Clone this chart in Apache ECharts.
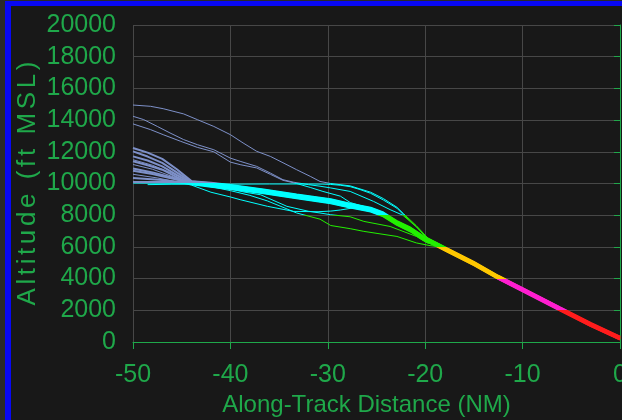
<!DOCTYPE html>
<html>
<head>
<meta charset="utf-8">
<script src="https://cdn.jsdelivr.net/npm/echarts@6/dist/echarts.min.js"></script>
<style>
  html, body { margin: 0; padding: 0; background: #2a2a2a; overflow: hidden; }
  #chart { position: absolute; left: 0; top: 0; width: 622px; height: 420px; }
  .edge { position: absolute; }
</style>
</head>
<body>
<div id="chart"></div>
<div class="edge" style="left:0;top:0;width:5px;height:420px;background:#2a2a2a"></div>
<div class="edge" style="left:0;top:0;width:622px;height:1px;background:#2a2a2a"></div>
<div class="edge" style="left:5px;top:1px;width:617px;height:5px;background:#0808f4"></div>
<div class="edge" style="left:5px;top:1px;width:6px;height:419px;background:#0808f4"></div>
<script>
// Axis ticks
const distanceTicks = [-50, -40, -30, -20, -10, 0];
const altitudeTicks = [0, 2000, 4000, 6000, 8000, 10000, 12000, 14000, 16000, 18000, 20000];

// Altitude bands (ft MSL) used to colour each track
const bandLimits = [2000, 4000, 6000, 8000, 10000];
const bandColors = ['#ff1c1c', '#ff1ed0', '#ffc800', '#22f000', '#00ffff', '#7d90c8'];

// Recorded approach tracks: [along-track distance (NM), altitude (ft MSL)]
const trackHigh1 = [[-50,14950],[-48.2,14870],[-46.9,14720],[-44.8,14390],[-43.4,14030],[-41.7,13600],[-40,13080],[-38.7,12560],[-37.3,12030],[-35.9,11710],[-34.6,11310],[-33.2,10870],[-31.8,10450],[-30.8,10130],[-29.7,10000],[-27.7,9850],[-25.6,9450],[-24.3,9050],[-22.9,8500],[-22.2,8080],[-20.9,7330],[-19.8,6600],[-18.8,6080],[-17.8,5800],[-15,4930],[-12.5,4060],[-10,3280],[-6.2,2080],[-3,1090],[0,240]];
const trackHigh2 = [[-50,14240],[-48.9,14030],[-47.5,13600],[-46.2,13190],[-44.8,12770],[-43.4,12450],[-41.7,12130],[-40,11600],[-39,11400],[-37.3,11080],[-35.9,10660],[-34.6,10240],[-33.5,10080],[-32,9930],[-30.8,9830],[-29.7,9720],[-27.7,9500],[-25.3,8870],[-23.6,8350],[-22.3,8000],[-20.9,7260],[-19.8,6540],[-18.8,6100],[-17.8,5790],[-15,4920],[-12.5,4050],[-10,3270],[-6.2,2070],[-3,1080],[0,230]];
const trackHigh3 = [[-50,13760],[-48.2,13400],[-46.9,13080],[-45.1,12660],[-43.4,12280],[-41.7,12000],[-40,11350],[-39,11190],[-37.3,10980],[-35.9,10580],[-34.6,10200],[-33.2,10000],[-31.8,9750],[-30.5,9500],[-28.7,9200],[-27.7,8800],[-25.6,8420],[-24.3,8100],[-22.9,7550],[-21.5,7120],[-20.2,6590],[-18.8,6160],[-17.8,5850],[-15,4980],[-12.5,4110],[-10,3320],[-6.2,2120],[-3,1120],[0,270]];
const trackLevel = [[-48.5,9930],[-46,9950],[-44,9950],[-40,9960],[-36,9970],[-32,9970],[-30.5,9960],[-29.7,9940],[-28.7,9890],[-27.7,9800],[-26.7,9620],[-25.6,9380],[-24.3,8960],[-22.9,8440],[-22.2,8010],[-20.9,7280],[-19.8,6560],[-18.8,6050],[-17.8,5770],[-15,4900],[-12.5,4030],[-10,3250],[-6.2,2050],[-3,1060],[0,210]];
const trackDip = [[-50,10580],[-47.5,10350],[-45.5,10100],[-44,9900],[-42,9450],[-40,9150],[-39,8980],[-36.2,8560],[-33.5,8240],[-31,8220],[-29.7,8260],[-28.7,8330],[-27.2,8480],[-25.6,8330],[-24.3,8000],[-22.9,7470],[-21.5,7060],[-20.2,6520],[-18.8,6100],[-17.8,5780],[-15,4910],[-12.5,4040],[-10,3260],[-6.2,2060],[-3,1060],[0,210]];
const trackLow1 = [[-50,11500],[-48,11150],[-46,10650],[-44,10050],[-42,9880],[-40,9650],[-38.5,9450],[-36.9,9290],[-34.2,8560],[-32,8250],[-30.8,8140],[-29.7,8030],[-27.7,7900],[-26.3,7610],[-23.6,7290],[-20.9,6660],[-19.8,6250],[-18.8,6120],[-17.8,5800],[-15,4930],[-12.5,4060],[-10,3280],[-6.2,2080],[-3,1080],[0,230]];
const trackLow2 = [[-50,11200],[-48,10900],[-46,10450],[-44,10000],[-42,9800],[-40,9550],[-38,9250],[-36.2,8900],[-34.6,8500],[-33.2,8140],[-30.8,7750],[-29.7,7350],[-27.7,7150],[-26.3,6980],[-22.9,6660],[-20.9,6250],[-19.5,6080],[-18.5,6010],[-17.8,5760],[-15,4890],[-12.5,4020],[-10,3240],[-6.2,2040],[-3,1050],[0,200]];

// Tracks that make up the main descent stream
const streamA = [[-50,12240],[-48.5,11950],[-47,11550],[-45.5,10900],[-44,10150],[-42,10040],[-40,9900],[-36.6,9620],[-33.2,9310],[-29.7,9000],[-27.7,8720],[-25.6,8470],[-24.3,8170],[-22.9,7630],[-21.5,7210],[-20.2,6680],[-18.8,6240],[-17.8,5920],[-15,5050],[-12.5,4180],[-10,3400],[-6.2,2200],[-3,1200],[0,340]];
const streamB = [[-50,12030],[-48.5,11700],[-47,11300],[-45.5,10700],[-44,10090],[-42,9980],[-40,9840],[-36.6,9560],[-33.2,9250],[-29.7,8940],[-27.7,8660],[-25.6,8410],[-24.3,8110],[-22.9,7570],[-21.5,7150],[-20.2,6620],[-18.8,6200],[-17.8,5880],[-15,5010],[-12.5,4140],[-10,3360],[-6.2,2160],[-3,1160],[0,310]];
const streamC = [[-50,11710],[-48.5,11450],[-47,11080],[-45.5,10550],[-44,10030],[-42,9920],[-40,9780],[-36.6,9500],[-33.2,9190],[-29.7,8880],[-27.7,8600],[-25.6,8350],[-24.3,8050],[-22.9,7510],[-21.5,7090],[-20.2,6560],[-18.8,6140],[-17.8,5820],[-15,4950],[-12.5,4080],[-10,3300],[-6.2,2100],[-3,1100],[0,250]];
const streamD = [[-50,11400],[-48.5,11150],[-47,10870],[-45.5,10400],[-44,9970],[-42,9860],[-40,9720],[-36.6,9440],[-33.2,9130],[-29.7,8820],[-27.7,8540],[-25.6,8290],[-24.3,7990],[-22.9,7450],[-21.5,7030],[-20.2,6500],[-18.8,6080],[-17.8,5760],[-15,4890],[-12.5,4020],[-10,3240],[-6.2,2040],[-3,1040],[0,190]];
const streamE = [[-50,10940],[-48,10700],[-46,10380],[-44,9950],[-42,9800],[-40,9660],[-36.6,9380],[-33.2,9070],[-29.7,8760],[-27.7,8480],[-25.6,8230],[-24.3,7930],[-22.9,7390],[-21.5,6970],[-20.2,6440],[-18.8,6040],[-17.8,5720],[-15,4850],[-12.5,3980],[-10,3200],[-6.2,2000],[-3,1000],[0,150]];
const streamF = [[-50,10810],[-48,10600],[-46,10320],[-44,10060],[-42,9950],[-40,9810],[-36.6,9530],[-33.2,9220],[-29.7,8910],[-27.7,8630],[-25.6,8380],[-24.3,8080],[-22.9,7540],[-21.5,7120],[-20.2,6590],[-18.8,6170],[-17.8,5850],[-15,4980],[-12.5,4110],[-10,3330],[-6.2,2130],[-3,1130],[0,280]];
const streamG = [[-50,10350],[-47,10220],[-44,10000],[-42,9890],[-40,9750],[-36.6,9470],[-33.2,9160],[-29.7,8850],[-27.7,8570],[-25.6,8320],[-24.3,8020],[-22.9,7480],[-21.5,7060],[-20.2,6530],[-18.8,6110],[-17.8,5790],[-15,4920],[-12.5,4050],[-10,3270],[-6.2,2070],[-3,1070],[0,220]];
const streamH = [[-50,10100],[-47,10090],[-44,10120],[-42,10010],[-40,9870],[-36.6,9590],[-33.2,9280],[-29.7,8970],[-27.7,8690],[-25.6,8440],[-24.3,8140],[-22.9,7600],[-21.5,7180],[-20.2,6650],[-18.8,6220],[-17.8,5900],[-15,5030],[-12.5,4160],[-10,3380],[-6.2,2180],[-3,1180],[0,320]];
const streamI = [[-50,10060],[-47,10050],[-44,10030],[-42,9830],[-40,9690],[-36.6,9410],[-33.2,9100],[-29.7,8790],[-27.7,8510],[-25.6,8260],[-24.3,7960],[-22.9,7420],[-21.5,7000],[-20.2,6470],[-18.8,6060],[-17.8,5740],[-15,4870],[-12.5,4000],[-10,3220],[-6.2,2020],[-3,1020],[0,170]];

const singleTracks = [trackHigh1, trackHigh2, trackHigh3, trackLevel, trackDip, trackLow1, trackLow2];
const streamTracks = [streamA, streamB, streamC, streamD, streamE, streamF, streamG, streamH, streamI];

const green = '#1fa84a';
const labelFont = "'Liberation Sans Narrow', 'Arial Narrow', 'Liberation Sans', sans-serif";
const yTitle = 'Altitude (ft MSL)';

const pieces = [];
for (let i = 0; i <= bandLimits.length; i++) {
  const p = { color: bandColors[i] };
  if (i > 0) p.gte = bandLimits[i - 1];
  if (i < bandLimits.length) p.lt = bandLimits[i];
  pieces.push(p);
}

const series = [];
singleTracks.forEach(t => series.push({
  type: 'line', data: t, symbol: 'none', silent: true, animation: false,
  lineStyle: { width: 1 }, z: 3
}));
streamTracks.forEach(t => series.push({
  type: 'line', data: t, symbol: 'none', silent: true, animation: false,
  lineStyle: { width: 2 }, z: 4
}));

const chart = echarts.init(document.getElementById('chart'), null, { renderer: 'canvas' });
chart.setOption({
  backgroundColor: '#181818',
  animation: false,
  grid: { left: 133, right: 2, top: 25, bottom: 78, containLabel: false, outerBoundsMode: 'none' },
  visualMap: {
    show: false, type: 'piecewise', dimension: 1,
    seriesIndex: series.map((s, i) => i),
    pieces: pieces
  },
  xAxis: {
    type: 'value',
    min: distanceTicks[0], max: distanceTicks[distanceTicks.length - 1], interval: 10,
    name: 'Along-Track Distance (NM)',
    nameLocation: 'middle', nameGap: 51, nameMoveOverlap: false,
    nameTextStyle: { color: green, fontSize: 24, fontFamily: labelFont, padding: [0, 20, 0, 0] },
    axisLine: { show: true, onZero: false, lineStyle: { color: green, width: 1 } },
    axisTick: { show: true, length: 7, lineStyle: { color: green } },
    axisLabel: { color: green, fontSize: 25, fontFamily: labelFont, margin: 21,
      formatter: v => distanceTicks.includes(v) ? String(v) : '' },
    splitLine: { show: true, lineStyle: { color: '#474747', width: 1 } }
  },
  yAxis: {
    type: 'value',
    min: altitudeTicks[0], max: altitudeTicks[altitudeTicks.length - 1], interval: 2000,
    name: yTitle.split('').map(c => '{s|' + c + '}').join(''),
    nameLocation: 'middle', nameGap: 92, nameRotate: 90, nameMoveOverlap: false,
    nameTextStyle: {
      color: green, fontSize: 26, fontFamily: labelFont, padding: [0, 0, 0, 0],
      rich: { s: { color: green, fontSize: 26, fontFamily: labelFont, padding: [0, 1.8, 0, 1.8] } }
    },
    axisLine: { show: true, lineStyle: { color: green, width: 1 } },
    axisTick: { show: true, length: 6, lineStyle: { color: green } },
    axisLabel: { color: green, fontSize: 25, fontFamily: labelFont, margin: 17,
      formatter: v => altitudeTicks.includes(v) ? String(v) : '' },
    splitLine: { show: true, lineStyle: { color: '#474747', width: 1 } }
  },
  series: series
});
</script>
</body>
</html>
